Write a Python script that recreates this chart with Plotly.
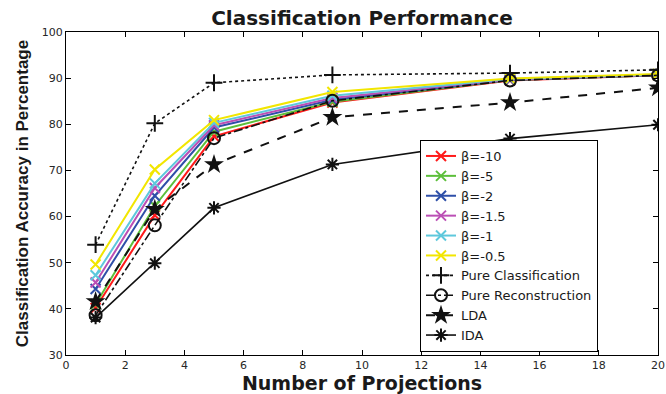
import plotly.graph_objects as go

projections = [1, 3, 5, 9, 15, 20]

beta_labels = ["β=-10", "β=-5", "β=-2", "β=-1.5", "β=-1", "β=-0.5"]
beta_values = [
    [40.2, 60.3, 77.4, 84.7, 89.5, 90.6],   # β=-10
    [41.0, 62.3, 78.4, 84.9, 89.6, 90.6],   # β=-5
    [44.3, 64.5, 79.3, 85.3, 89.6, 90.7],   # β=-2
    [45.7, 66.2, 79.8, 85.7, 89.7, 90.7],   # β=-1.5
    [47.3, 67.2, 80.3, 86.2, 89.8, 90.8],   # β=-1
    [49.6, 70.2, 80.9, 87.0, 89.9, 90.9],   # β=-0.5
]
beta_colors = ["#ff1a1a", "#5cbf3a", "#2e4fa8", "#bb4fb5", "#5ec8dc", "#f2e600"]

pure_classification = [53.9, 80.2, 89.0, 90.7, 91.1, 91.8]
pure_reconstruction = [38.6, 58.1, 77.0, 85.1, 89.5, 90.6]
lda = [41.6, 61.6, 71.3, 81.5, 84.7, 87.9]
ida = [38.1, 49.9, 61.9, 71.3, 76.9, 79.9]

x_ticks = list(range(0, 21, 2))
y_ticks = list(range(30, 101, 10))

fig = go.Figure()

for name, vals, col in zip(beta_labels, beta_values, beta_colors):
    fig.add_trace(go.Scatter(
        x=projections, y=vals, name=name, mode="lines+markers",
        line=dict(color=col, width=2),
        marker=dict(symbol="x-thin-open", size=10, color=col, line=dict(color=col, width=2)),
    ))

black = "#111111"
fig.add_trace(go.Scatter(
    x=projections, y=pure_classification, name="Pure Classification", mode="lines+markers",
    line=dict(color=black, width=1.6, dash="dot"),
    marker=dict(symbol="cross-thin-open", size=12, color=black, line=dict(color=black, width=2)),
))
fig.add_trace(go.Scatter(
    x=projections, y=pure_reconstruction, name="Pure Reconstruction", mode="lines+markers",
    line=dict(color=black, width=1.6, dash="dashdot"),
    marker=dict(symbol="circle-open", size=12, color=black, line=dict(color=black, width=2)),
))
fig.add_trace(go.Scatter(
    x=projections, y=lda, name="LDA", mode="lines+markers",
    line=dict(color=black, width=2, dash="dash"),
    marker=dict(symbol="star", size=15, color=black),
))
fig.add_trace(go.Scatter(
    x=projections, y=ida, name="IDA", mode="lines+markers",
    line=dict(color=black, width=1.6),
    marker=dict(symbol="asterisk-open", size=11, color=black, line=dict(color=black, width=2)),
))

axis_common = dict(
    showline=True, linecolor="black", linewidth=1, mirror="allticks",
    ticks="inside", ticklen=5, tickcolor="black", showgrid=False, zeroline=False,
    automargin=False,
    tickfont=dict(family="DejaVu Sans", size=11, color="#262626"),
)

fig.update_layout(
    width=666, height=394,
    margin=dict(l=66, r=8, t=32, b=39),
    paper_bgcolor="white", plot_bgcolor="white",
    title=dict(text="<b>Classification Performance</b>", x=362 / 666, xanchor="center",
               y=1 - 18 / 394, yanchor="middle", yref="container",
               font=dict(family="DejaVu Sans", size=20, color="#1a1a1a")),
    xaxis=dict(range=[0, 20], tickvals=x_ticks,
               title=dict(text="<b>Number of Projections</b>", standoff=15,
                          font=dict(family="DejaVu Sans", size=19, color="#1a1a1a")),
               **axis_common),
    yaxis=dict(range=[30, 100], tickvals=y_ticks,
               title=dict(text="<b>Classification Accuracy in Percentage</b>", standoff=8,
                          font=dict(family="Liberation Sans", size=17, color="#1a1a1a")),
               **axis_common),
    legend=dict(x=(509 - 66) / 592, xanchor="center", y=3 / 323, yanchor="bottom",
                bgcolor="white", bordercolor="black", borderwidth=1,
                font=dict(family="DejaVu Sans", size=13, color="#1a1a1a"),
                tracegroupgap=0),
    showlegend=True,
)

fig.write_html("out.html", config={"displayModeBar": False},
               post_script="document.body.style.margin='0';document.body.style.padding='0';"
                           "document.body.style.overflow='hidden';")
